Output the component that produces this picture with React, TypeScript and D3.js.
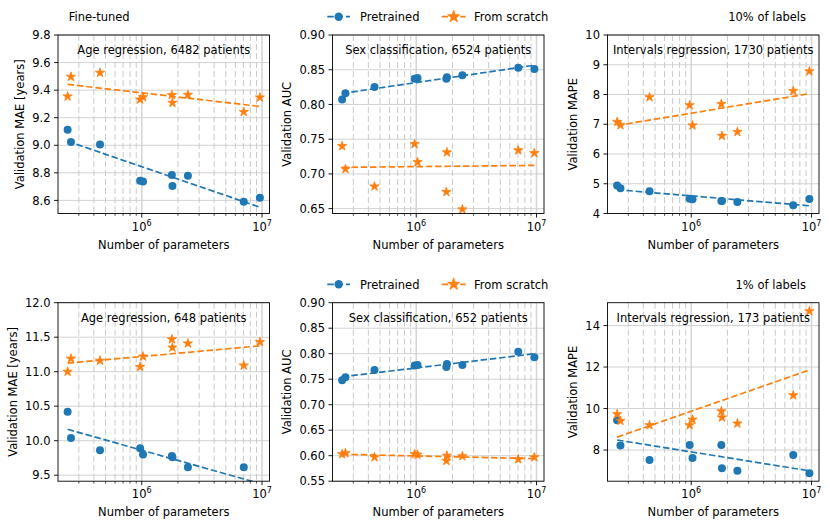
import React from 'react';
import * as d3 from 'd3';

// model sizes (shared by every panel)
const params = [2.42e5, 2.58e5, 4.5e5, 9.7e5, 1.025e6, 1.78e6, 1.8e6, 2.42e6, 7.05e6, 9.6e6];

// fine-tuned, 10% of labels
const agePre10 = [9.112, 9.024, 9.005, 8.743, 8.738, 8.784, 8.704, 8.779, 8.59, 8.619];
const ageScr10 = [9.354, 9.497, 9.526, 9.332, 9.349, 9.364, 9.308, 9.366, 9.242, 9.347];
const sexPre10 = [0.807, 0.816, 0.825, 0.837, 0.838, 0.837, 0.839, 0.842, 0.853, 0.851];
const sexScr10 = [0.74, 0.707, 0.682, 0.743, 0.717, 0.674, 0.731, 0.649, 0.734, 0.73];
const intPre10 = [4.94, 4.85, 4.75, 4.5, 4.48, 4.42, 4.42, 4.39, 4.28, 4.49];
const intScr10 = [7.08, 6.97, 7.91, 7.64, 6.96, 7.68, 6.61, 6.74, 8.12, 8.78];

// 1% of labels
const agePre1 = [10.418, 10.04, 9.86, 9.89, 9.8, 9.78, 9.76, 9.615, 9.615, 9.27];
const ageScr1 = [11.0, 11.19, 11.16, 11.07, 11.22, 11.47, 11.35, 11.41, 11.09, 11.43];
const sexPre1 = [0.748, 0.754, 0.768, 0.777, 0.778, 0.774, 0.78, 0.778, 0.804, 0.793];
const sexScr1 = [0.603, 0.605, 0.597, 0.603, 0.602, 0.59, 0.6, 0.599, 0.593, 0.597];
const intPre1 = [9.44, 8.22, 7.52, 8.24, 7.62, 8.24, 7.12, 7.0, 7.76, 6.88];
const intScr1 = [9.73, 9.41, 9.2, 9.2, 9.47, 9.87, 9.57, 9.28, 10.64, 14.69];

const titles = [
  'Age regression, 6482 patients',
  'Sex classification, 6524 patients',
  'Intervals regression, 1730 patients',
  'Age regression, 648 patients',
  'Sex classification, 652 patients',
  'Intervals regression, 173 patients',
];
const yLabels = ['Validation MAE [years]', 'Validation AUC', 'Validation MAPE'];
const yDomains: [number, number][] = [
  [8.505, 9.8], [0.643, 0.9], [4, 10],
  [9.413, 12.0], [0.55, 0.9], [6.5, 15.1],
];
const yTicks = [
  [8.6, 8.8, 9.0, 9.2, 9.4, 9.6, 9.8],
  [0.65, 0.7, 0.75, 0.8, 0.85, 0.9],
  [4, 5, 6, 7, 8, 9, 10],
  [9.5, 10.0, 10.5, 11.0, 11.5, 12.0],
  [0.55, 0.6, 0.65, 0.7, 0.75, 0.8, 0.85, 0.9],
  [8, 10, 12, 14],
];
const yFormats = ['.1f', '.2f', 'd', '.1f', '.2f', 'd'];

const BLUE = '#1f77b4';
const ORANGE = '#ff7f0e';
const FONT = 'DejaVu Sans';
const FS = 11.5;

const lefts = [58, 332.5, 607.5];
const tops = [35, 302.7];
const W = 211.5;
const H = 178.5;

// rough DejaVu Sans widths for tick labels
const textW = (s: string) =>
  s.split('').reduce((w, c) => w + (c === '.' ? 0.318 : 0.636), 0) * FS;

const starPath = d3.symbol(d3.symbolStar, 4.9 * 4.9 / 0.8908130915292852)();

function fit(xs: number[], ys: number[]) {
  const lx = xs.map(Math.log10);
  const mx = d3.mean(lx)!;
  const my = d3.mean(ys)!;
  const sxy = d3.sum(lx, (v, i) => (v - mx) * (ys[i] - my));
  const sxx = d3.sum(lx, (v) => (v - mx) ** 2);
  const b = sxy / sxx;
  return (x: number) => my + b * (Math.log10(x) - mx);
}

const lx0 = Math.log10(d3.min(params)!);
const lx1 = Math.log10(d3.max(params)!);
const padX = 0.05 * (lx1 - lx0);
const xDomain: [number, number] = [10 ** (lx0 - padX), 10 ** (lx1 + padX)];

interface PanelProps {
  idx: number;
  pre: number[];
  scr: number[];
}

const Panel: React.FC<PanelProps> = ({ idx, pre, scr }) => {
  const col = idx % 3;
  const row = Math.floor(idx / 3);
  const left = lefts[col];
  const top = tops[row];
  const x = d3.scaleLog().domain(xDomain).range([left, left + W]);
  const y = d3.scaleLinear().domain(yDomains[idx]).range([top + H, top]);
  const fmt = d3.format(yFormats[idx]);
  const allTicks = x.ticks();
  const major = allTicks.filter((t) => Math.abs(Math.log10(t) - Math.round(Math.log10(t))) < 1e-9);
  const minor = allTicks.filter((t) => !major.includes(t));
  const clipId = `clip-${idx}`;
  const maxW = d3.max(yTicks[idx], (t) => textW(fmt(t)))!;
  const ylx = left - 8 - maxW - 4.6 - 7;
  const xs = [d3.min(params)!, d3.max(params)!];
  const fPre = fit(params, pre);
  const fScr = fit(params, scr);
  const line = d3.line<number>().x((d) => x(d));
  const bottom = top + H;

  return (
    <g>
      <defs>
        <clipPath id={clipId}>
          <rect x={left} y={top} width={W} height={H} />
        </clipPath>
      </defs>
      {/* grid */}
      {minor.map((t) => (
        <line key={'mg' + t} x1={x(t)} x2={x(t)} y1={top} y2={bottom}
          stroke="#c4c4c4" strokeWidth={0.9} strokeDasharray="6,3" />
      ))}
      {major.map((t) => (
        <line key={'Mg' + t} x1={x(t)} x2={x(t)} y1={top} y2={bottom}
          stroke="#d6d6d6" strokeWidth={1.6} />
      ))}
      {yTicks[idx].map((t) => (
        <line key={'yg' + t} x1={left} x2={left + W} y1={y(t)} y2={y(t)}
          stroke="#cdcdcd" strokeWidth={0.9} />
      ))}
      <g clipPath={`url(#${clipId})`}>
        {params.map((p, i) => (
          <circle key={'c' + i} cx={x(p)} cy={y(pre[i])} r={4} fill={BLUE} />
        ))}
        {params.map((p, i) => (
          <path key={'s' + i} d={starPath!} transform={`translate(${x(p)},${y(scr[i])})`}
            fill={ORANGE} stroke={ORANGE} strokeWidth={0.8} strokeLinejoin="round" />
        ))}
        <path d={line.y((d) => y(fPre(d)))(xs)!} fill="none" stroke={BLUE}
          strokeWidth={1.7} strokeDasharray="6.5,2.8" />
        <path d={line.y((d) => y(fScr(d)))(xs)!} fill="none" stroke={ORANGE}
          strokeWidth={1.7} strokeDasharray="6.5,2.8" />
      </g>
      {/* spines */}
      <rect x={left} y={top} width={W} height={H} fill="none" stroke="#000" strokeWidth={0.9} />
      {/* x ticks */}
      {minor.map((t) => (
        <line key={'mt' + t} x1={x(t)} x2={x(t)} y1={bottom} y2={bottom + 2.3} stroke="#000" strokeWidth={0.7} />
      ))}
      {major.map((t) => (
        <g key={'Mt' + t}>
          <line x1={x(t)} x2={x(t)} y1={bottom} y2={bottom + 4} stroke="#000" strokeWidth={0.9} />
          <text x={x(t)} y={bottom + 17} textAnchor="middle" fontSize={FS} fontFamily={FONT}>
            10<tspan dy={-5} fontSize={8}>{Math.round(Math.log10(t))}</tspan>
          </text>
        </g>
      ))}
      {/* y ticks */}
      {yTicks[idx].map((t) => (
        <g key={'yt' + t}>
          <line x1={left - 4} x2={left} y1={y(t)} y2={y(t)} stroke="#000" strokeWidth={0.9} />
          <text x={left - 7.5} y={y(t) + 4.2} textAnchor="end" fontSize={FS} fontFamily={FONT}>
            {fmt(t)}
          </text>
        </g>
      ))}
      <text x={left + W / 2} y={bottom + 35} textAnchor="middle" fontSize={FS} fontFamily={FONT}>
        Number of parameters
      </text>
      <text transform={`translate(${ylx},${top + H / 2}) rotate(-90)`} dy="0.36em"
        textAnchor="middle" fontSize={FS} fontFamily={FONT}>
        {yLabels[col]}
      </text>
      <text x={left + W / 2} y={top + 19} textAnchor="middle" fontSize={FS} fontFamily={FONT}>
        {titles[idx]}
      </text>
    </g>
  );
};

const Legend: React.FC<{ cy: number }> = ({ cy }) => (
  <g fontFamily={FONT} fontSize={FS}>
    <line x1={327.3} x2={350} y1={cy} y2={cy} stroke={BLUE} strokeWidth={1.7} strokeDasharray="6.5,2.8" />
    <circle cx={338.7} cy={cy} r={4.2} fill={BLUE} />
    <text x={360} y={cy + 4.2}>Pretrained</text>
    <line x1={441.7} x2={465.7} y1={cy} y2={cy} stroke={ORANGE} strokeWidth={1.7} strokeDasharray="6.5,2.8" />
    <path d={d3.symbol(d3.symbolStar, 6.4 * 6.4 / 0.8908130915292852)()!}
      transform={`translate(453.7,${cy})`} fill={ORANGE} stroke={ORANGE} strokeWidth={0.8} />
    <text x={474} y={cy + 4.2}>From scratch</text>
  </g>
);

const panelData = [
  [agePre10, ageScr10], [sexPre10, sexScr10], [intPre10, intScr10],
  [agePre1, ageScr1], [sexPre1, sexScr1], [intPre1, intScr1],
];

export default function App() {
  return (
    <svg width={830} height={526} style={{ position: 'absolute', left: 0, top: 0, background: '#fff' }}>
      <rect width={830} height={526} fill="#fff" />
      {panelData.map(([pre, scr], i) => (
        <Panel key={i} idx={i} pre={pre} scr={scr} />
      ))}
      <Legend cy={16.7} />
      <Legend cy={284.3} />
      <text x={68.7} y={20.9} fontSize={FS} fontFamily={FONT}>Fine-tuned</text>
      <text x={806} y={20.9} textAnchor="end" fontSize={FS} fontFamily={FONT}>10% of labels</text>
      <text x={806} y={289.2} textAnchor="end" fontSize={FS} fontFamily={FONT}>1% of labels</text>
    </svg>
  );
}
